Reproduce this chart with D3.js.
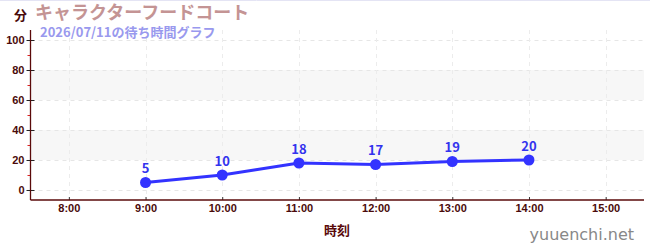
<!DOCTYPE html>
<html>
<head>
<meta charset="utf-8">
<script src="https://cdn.jsdelivr.net/npm/d3@7"></script>
<style>
  html, body { margin: 0; padding: 0; background: #fff; }
  svg { display: block; font-family: "Noto Sans CJK JP", "Noto Sans", sans-serif; }
</style>
</head>
<body>
<svg id="chart" width="650" height="250"></svg>
<script>
// --- data ---
const hours = [9, 10, 11, 12, 13, 14];
const waits = [5, 10, 18, 17, 19, 20];
const xTicks = [8, 9, 10, 11, 12, 13, 14, 15];
const yTicks = [0, 20, 40, 60, 80, 100];
const yMinor = [10, 30, 50, 70, 90];
const bands = [[20, 40], [60, 80]];

const title = "キャラクターフードコート";
const subtitle = "2026/07/11の待ち時間グラフ";

const svg = d3.select("#chart");
const mLeft = 30.5, mRight = 644, mTop = 30, mBottom = 200;

const x = d3.scaleLinear().domain([7.5, 15.5]).range([mLeft, mRight]);
const y = d3.scaleLinear().domain([-6.67, 106.67]).range([mBottom, mTop]);

svg.append("line").attr("x1", 0).attr("x2", 650).attr("y1", 0.5).attr("y2", 0.5)
    .style("stroke", "#e4e4f4");

// bands
svg.selectAll(".band").data(bands).enter().append("rect")
    .attr("x", mLeft).attr("width", mRight - mLeft)
    .attr("y", d => y(d[1])).attr("height", d => y(d[0]) - y(d[1]))
    .style("fill", "#f7f7f7");

// grid
svg.selectAll(".hgrid").data(yTicks).enter().append("line")
    .attr("x1", mLeft).attr("x2", mRight)
    .attr("y1", d => y(d) + 0.5).attr("y2", d => y(d) + 0.5)
    .style("stroke", "#e6e6e6").style("stroke-dasharray", "4,4");
svg.selectAll(".vgrid").data(xTicks).enter().append("line")
    .attr("x1", d => Math.round(x(d)) + 0.5).attr("x2", d => Math.round(x(d)) + 0.5)
    .attr("y1", mTop).attr("y2", mBottom)
    .style("stroke", "#ececec").style("stroke-dasharray", "4,4");

// y axis
const yAxis = svg.append("g").attr("transform", `translate(${mLeft},0)`)
    .call(d3.axisLeft(y).tickValues(yTicks).tickSize(4).tickPadding(3));
yAxis.select(".domain").remove();
yAxis.selectAll(".tick line").attr("x2", 4).attr("x1", -4).style("stroke", "#222");
yAxis.selectAll("text").style("fill", "#4a0a0a").style("font-size", "11px").style("font-weight", "bold")
    .attr("x", -6);
svg.selectAll(".yminor").data(yMinor).enter().append("line")
    .attr("x1", mLeft - 3).attr("x2", mLeft)
    .attr("y1", d => y(d) + 0.5).attr("y2", d => y(d) + 0.5)
    .style("stroke", "#dd2222");
svg.append("line").attr("x1", mLeft).attr("x2", mLeft).attr("y1", mTop).attr("y2", mBottom)
    .style("stroke", "#5a0a0a").style("stroke-width", 1.3);

// x axis
const xAxis = svg.append("g").attr("transform", `translate(0,${mBottom})`)
    .call(d3.axisBottom(x).tickValues(xTicks).tickSize(-3).tickPadding(4)
        .tickFormat(d => d + ":00"));
xAxis.select(".domain").remove();
xAxis.selectAll(".tick line").style("stroke", "#333");
xAxis.selectAll("text").style("fill", "#4a0a0a").style("font-size", "11px").style("font-weight", "bold");
svg.append("line").attr("x1", mLeft).attr("x2", mRight).attr("y1", mBottom).attr("y2", mBottom)
    .style("stroke", "#5a0a0a").style("stroke-width", 1.3);

// series
const pts = hours.map((h, i) => ({ h, v: waits[i] }));
svg.append("path").datum(pts)
    .attr("d", d3.line().x(d => x(d.h)).y(d => y(d.v)))
    .style("fill", "none").style("stroke", "#3333ff").style("stroke-width", 3);
svg.selectAll(".dot").data(pts).enter().append("circle")
    .attr("cx", d => x(d.h)).attr("cy", d => y(d.v)).attr("r", 5.5)
    .style("fill", "#3333ff");
svg.selectAll(".vlabel").data(pts).enter().append("text")
    .attr("x", d => x(d.h)).attr("y", d => y(d.v) - 9)
    .attr("text-anchor", "middle")
    .style("fill", "#3333ee").style("font-size", "13px").style("font-weight", "bold")
    .text(d => d.v);

// titles
svg.append("text").attr("x", 14).attr("y", 20).text("分")
    .style("fill", "#4a0a0a").style("font-size", "13px").style("font-weight", "bold");
svg.append("text").attr("x", 35).attr("y", 19).text(title)
    .style("fill", "#c49494").style("font-size", "18px").style("font-weight", "bold");
svg.append("text").attr("x", 40).attr("y", 37).text(subtitle)
    .style("fill", "#9999ee").style("font-size", "13px").style("font-weight", "bold");

svg.append("text").attr("x", 337).attr("y", 235).attr("text-anchor", "middle").text("時刻")
    .style("fill", "#5a0a0a").style("font-size", "13px").style("font-weight", "bold");
svg.append("text").attr("x", 634).attr("y", 240).attr("text-anchor", "end").text("yuuenchi.net")
    .style("fill", "#888").style("font-size", "16px").style("font-family", "'DejaVu Sans', sans-serif");
</script>
</body>
</html>
